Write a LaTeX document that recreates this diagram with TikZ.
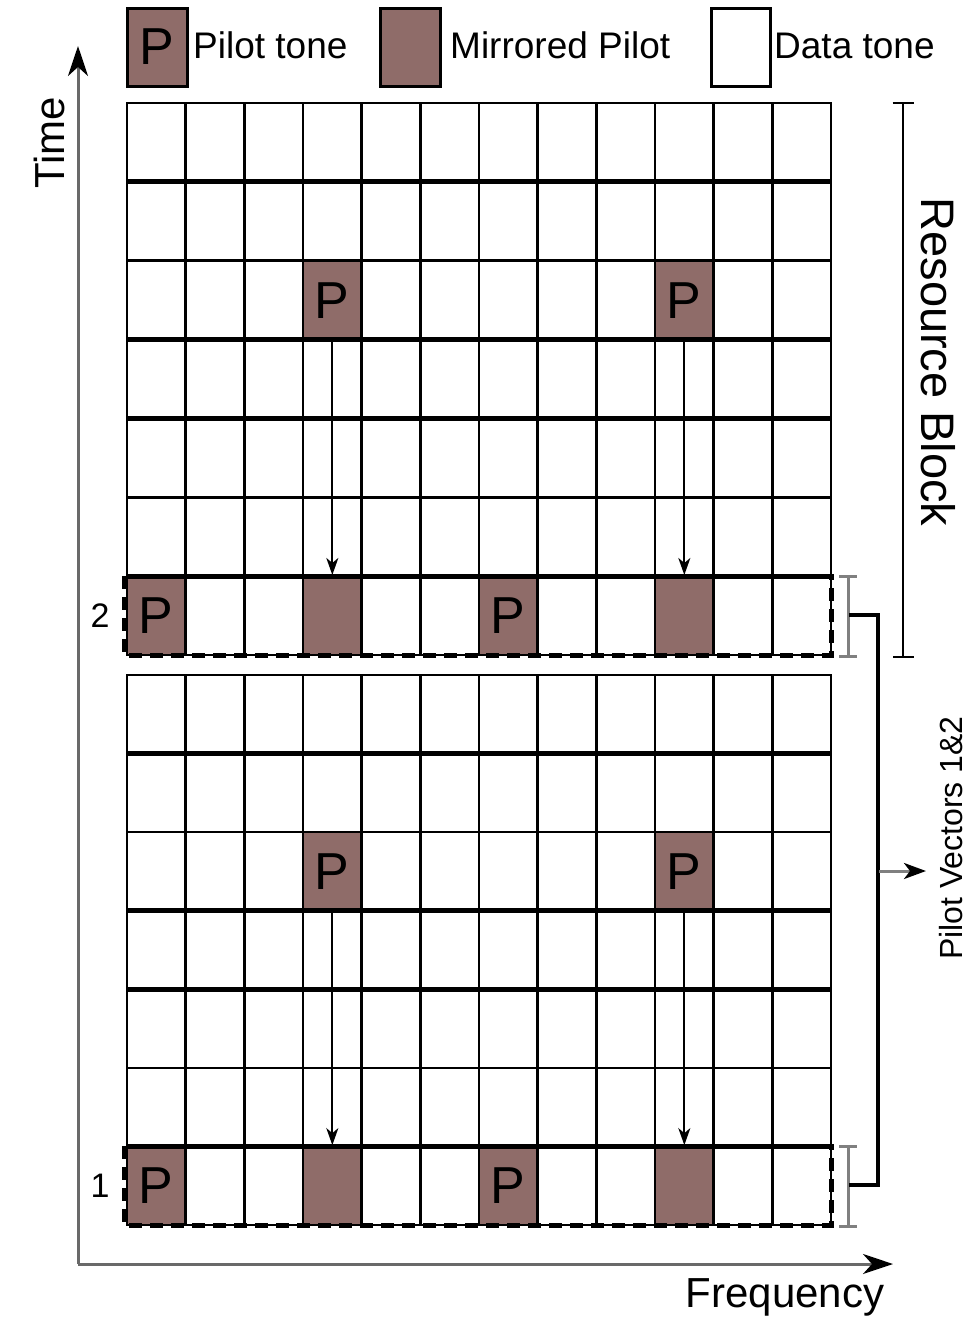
\documentclass[tikz,border=0pt]{standalone}
\usepackage{fontspec}
\setmainfont{Liberation Sans}
\usetikzlibrary{arrows.meta}
\definecolor{pilot}{RGB}{143,108,105}
\definecolor{axisgray}{RGB}{105,105,105}
\definecolor{brgray}{RGB}{128,128,128}
\begin{document}
\begin{tikzpicture}[x=1pt,y=-1pt,
  thingrid/.style={line width=2.5pt},
  thickgrid/.style={line width=5pt},
  cellbox/.style={draw=black,line width=2.5pt,minimum width=58.67pt,minimum height=78.7pt,inner sep=0pt,font=\fontsize{52}{52}\selectfont},
  pilotcell/.style={cellbox,fill=pilot},
  datacell/.style={cellbox,fill=white},
  legtext/.style={anchor=base west,inner sep=0pt,font=\fontsize{37}{37}\selectfont},
  rowlabel/.style={inner sep=0pt,font=\fontsize{34}{34}\selectfont},
  dashbox/.style={line width=5pt,dash pattern=on 13pt off 8pt},
  axisline/.style={line width=3pt,draw=axisgray,-{Stealth[length=30pt,width=20pt,inset=9pt,black]}},
  droparrow/.style={line width=1.8pt,-{Stealth[length=17pt,width=12pt,inset=5pt]}},
  grbracket/.style={line width=3pt,draw=brgray,{Bar[width=18pt]}-{Bar[width=18pt]}},
  rbbracket/.style={line width=2.2pt,{Bar[width=21pt]}-{Bar[width=21pt]}},
  connector/.style={line width=4pt},
  outarrow/.style={line width=3pt,draw=brgray,-{Stealth[length=22pt,width=16pt,inset=6pt,black]}}
]
\useasboundingbox (0,0) rectangle (972,1326);

% legend
\node[pilotcell,minimum width=60pt,minimum height=78pt,line width=3pt] (legp) at (157,47) {P};
\node[legtext] (legpt) at (193,58) {Pilot tone};
\node[pilotcell,minimum width=60pt,minimum height=78pt,line width=3pt] (legm) at (410,47) {};
\node[legtext] (legmt) at (450,58) {Mirrored Pilot};
\node[datacell,minimum width=59pt,minimum height=78pt,line width=3pt] (legd) at (740.5,47) {};
\node[legtext] (legdt) at (774,58) {Data tone};

% two resource-block grids
\foreach \t/\h/\n/\lab in {103/78.857/u/2, 675/78.571/l/1}{
  % pilot cells
  \node[pilotcell] (p\n a) at (332.33,\t+2.5*\h) {P};
  \node[pilotcell] (p\n b) at (684.33,\t+2.5*\h) {P};
  \node[pilotcell] (v\n a) at (156.33,\t+6.5*\h) {P};
  \node[pilotcell] (m\n a) at (332.33,\t+6.5*\h) {};
  \node[pilotcell] (v\n b) at (508.33,\t+6.5*\h) {P};
  \node[pilotcell] (m\n b) at (684.33,\t+6.5*\h) {};
  % vertical lines
  \foreach \i in {0,...,12}{
    \draw[thingrid] (127+\i*58.667,\t) -- (127+\i*58.667,\t+7*\h);
  }
  % horizontal lines
  \foreach \k in {0,2,5,7}{
    \draw[thingrid] (126,\t+\k*\h) -- (832,\t+\k*\h);
  }
  \foreach \k in {1,3,4,6}{
    \draw[thickgrid] (126,\t+\k*\h) -- (832,\t+\k*\h);
  }
  % mirroring arrows
  \draw[droparrow] (p\n a.south) -- (m\n a.north);
  \draw[droparrow] (p\n b.south) -- (m\n b.north);
  % dashed pilot-vector box
  \draw[dashbox] (124,\t+6*\h) rectangle (831,\t+7*\h);
  \node[rowlabel] (lab\n) at (100,\t+6.5*\h) {\lab};
}

% axes
\coordinate (orig) at (78,1264);
\coordinate (tend) at (78,46);
\coordinate (fend) at (893,1264);
\draw[axisline] (orig) -- (tend);
\draw[axisline] (orig) -- (fend);
\node[rotate=90,inner sep=0pt,font=\fontsize{42}{42}\selectfont] (tlab) at (49,143) {Time};
\node[anchor=base,inner sep=0pt,font=\fontsize{42}{42}\selectfont] (flab) at (785,1307) {Frequency};

% resource block bracket
\coordinate (rbt) at (903,102);
\coordinate (rbb) at (903,658);
\draw[rbbracket] (rbt) -- (rbb);
\node[rotate=-90,inner sep=0pt,font=\fontsize{47}{47}\selectfont] (rblab) at (938,362) {Resource Block};

% pilot vector brackets and connector
\coordinate (b2t) at (848,575);
\coordinate (b2b) at (848,658);
\coordinate (b1t) at (848,1145);
\coordinate (b1b) at (848,1228);
\draw[grbracket] (b2t) -- (b2b);
\draw[grbracket] (b1t) -- (b1b);
\coordinate (c2) at (849,615);
\coordinate (c2r) at (878,615);
\coordinate (c1r) at (878,1185);
\coordinate (c1) at (849,1185);
\draw[connector] (c2) -- (c2r) -- (c1r) -- (c1);
\coordinate (cm) at (879,871);
\coordinate (ce) at (926,871);
\draw[outarrow] (cm) -- (ce);
\node[rotate=90,inner sep=0pt,font=\fontsize{32}{32}\selectfont] (pvlab) at (951,838) {Pilot Vectors 1\&2};
\end{tikzpicture}
\end{document}
